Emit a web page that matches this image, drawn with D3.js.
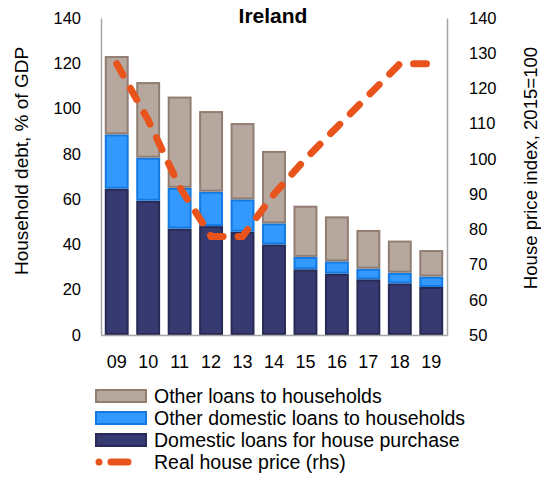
<!DOCTYPE html>
<html>
<head>
<meta charset="utf-8">
<script src="https://cdn.jsdelivr.net/npm/d3@7"></script>
<style>
  html, body { margin: 0; padding: 0; background: #fff; }
  svg { display: block; font-family: "Liberation Sans", Arial, sans-serif; }
</style>
</head>
<body>
<svg id="chart" width="541" height="479"></svg>
<script>
// Household debt composition (% of GDP) and real house price index for Ireland
const years = ["09", "10", "11", "12", "13", "14", "15", "16", "17", "18", "19"];
const housePurchase = [64.6, 59.3, 47.0, 48.1, 45.6, 40.0, 29.0, 27.1, 24.6, 22.8, 21.2];
const otherDomestic = [24.0, 19.0, 18.0, 15.2, 14.3, 9.3, 5.5, 5.4, 4.7, 4.7, 4.6];
const otherLoans = [34.6, 33.4, 40.3, 35.6, 33.7, 32.0, 22.6, 19.9, 17.1, 14.2, 11.7];
const housePrice = [127, 111, 92, 78, 78, 90, 100, 109, 118, 127, 127];

const leftTicks = [0, 20, 40, 60, 80, 100, 120, 140];
const rightTicks = [50, 60, 70, 80, 90, 100, 110, 120, 130, 140];

const seriesNames = [
  "Other loans to households",
  "Other domestic loans to households",
  "Domestic loans for house purchase",
  "Real house price (rhs)"
];
const fills = ["#b7a89f", "#3399ff", "#363a70"];
const strokes = ["#917d71", "#1479e0", "#272a55"];
const lineColor = "#e8541c";

const svg = d3.select("#chart");
const plot = { left: 101, right: 447, top: 18, bottom: 335 };

const x = d3.scaleBand().domain(years).range([plot.left, plot.right]).paddingInner(0.24).paddingOuter(0.12);
const yL = d3.scaleLinear().domain([0, 140]).range([plot.bottom, plot.top]);
const yR = d3.scaleLinear().domain([50, 140]).range([plot.bottom, plot.top]);

// stacked bars: house purchase at the bottom, then other domestic, then other loans
const rows = years.map((yr, i) => ({
  year: yr,
  housePurchase: housePurchase[i],
  otherDomestic: otherDomestic[i],
  otherLoans: otherLoans[i]
}));
const keys = ["housePurchase", "otherDomestic", "otherLoans"];
const stack = d3.stack().keys(keys)(rows);
const styleIdx = { housePurchase: 2, otherDomestic: 1, otherLoans: 0 };

svg.append("g").selectAll("g")
  .data(stack)
  .join("g")
  .attr("fill", d => fills[styleIdx[d.key]])
  .attr("stroke", d => strokes[styleIdx[d.key]])
  .attr("stroke-width", 2)
  .selectAll("rect")
  .data(d => d)
  .join("rect")
  .attr("x", d => x(d.data.year) + 1)
  .attr("y", d => yL(d[1]) + 1)
  .attr("width", x.bandwidth() - 2)
  .attr("height", d => Math.max(0, yL(d[0]) - yL(d[1]) - 2));

// axes
const axisColor = "#a6a6a6";
const left = svg.append("g").attr("transform", `translate(${plot.left},0)`)
  .call(d3.axisLeft(yL).tickValues(leftTicks).tickSize(0).tickPadding(20));
const right = svg.append("g").attr("transform", `translate(${plot.right},0)`)
  .call(d3.axisRight(yR).tickValues(rightTicks).tickSize(0).tickPadding(22));
const bottom = svg.append("g").attr("transform", `translate(0,${plot.bottom})`)
  .call(d3.axisBottom(x).tickSize(0).tickPadding(20));
[left, right, bottom].forEach(g => {
  g.select(".domain").attr("stroke", axisColor).attr("stroke-width", 1.5);
  g.selectAll("text").attr("fill", "#000")
    .style("font-family", "'Liberation Sans', Arial, sans-serif");
});
left.selectAll("text").style("font-size", "16.5px");
right.selectAll("text").style("font-size", "16.5px").attr("text-anchor", "start");
bottom.selectAll("text").style("font-size", "18px");

// house price line on the right axis
const line = d3.line()
  .x((d, i) => x(years[i]) + x.bandwidth() / 2)
  .y(d => yR(d));
svg.append("path")
  .datum(housePrice)
  .attr("d", line)
  .attr("fill", "none")
  .attr("stroke", lineColor)
  .attr("stroke-width", 7)
  .attr("stroke-linecap", "round")
  .attr("stroke-dasharray", "13 15");

// title
svg.append("text")
  .attr("x", 273).attr("y", 23)
  .attr("text-anchor", "middle")
  .style("font-size", "21px").style("font-weight", "bold")
  .text("Ireland");

// axis titles
svg.append("text")
  .attr("transform", "translate(28,161) rotate(-90)")
  .attr("text-anchor", "middle")
  .style("font-size", "19px")
  .text("Household debt, % of GDP");
svg.append("text")
  .attr("transform", "translate(537,168) rotate(-90)")
  .attr("text-anchor", "middle")
  .style("font-size", "18.6px")
  .text("House price index, 2015=100");

// legend
const legend = svg.append("g");
const legendY = [396, 418, 440, 462];
[0, 1, 2].forEach(i => {
  legend.append("rect")
    .attr("x", 96).attr("y", legendY[i] - 6)
    .attr("width", 50).attr("height", 12)
    .attr("fill", fills[i]).attr("stroke", strokes[i]).attr("stroke-width", 2);
});
// dot, dash, dot swatch for the dashed line
legend.append("line")
  .attr("x1", 99).attr("x2", 145)
  .attr("y1", legendY[3]).attr("y2", legendY[3])
  .attr("stroke", lineColor).attr("stroke-width", 7)
  .attr("stroke-linecap", "round")
  .attr("stroke-dasharray", "0 12 17 17 0 100");
seriesNames.forEach((name, i) => {
  legend.append("text")
    .attr("x", 154).attr("y", legendY[i])
    .attr("dy", "0.35em")
    .style("font-size", "19.5px")
    .text(name);
});
</script>
</body>
</html>
